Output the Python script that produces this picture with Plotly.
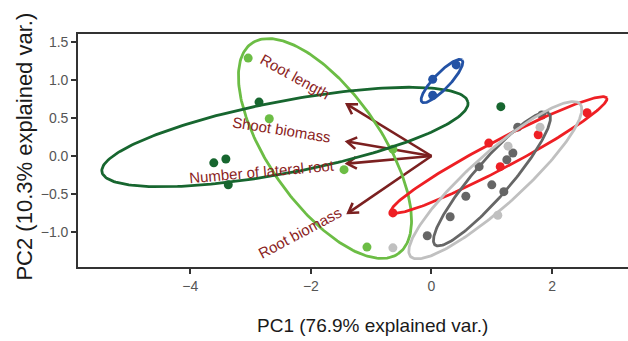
import numpy as np
import plotly.graph_objects as go

# ---- PCA scores per group ----
groups = ["g1", "g2", "g3", "g4", "g5", "g6"]
colors = {"g1": "#6cbd45", "g2": "#17662f", "g3": "#2352a5",
          "g4": "#ee1f24", "g5": "#666666", "g6": "#c0c0c0"}

pc1 = {
    "g1": [-3.04, -2.69, -0.64, -1.45, -1.07],
    "g2": [-2.86, -3.61, -3.41, -3.37, 1.15],
    "g3": [0.02, 0.41, 0.02],
    "g4": [2.58, 1.77, 0.95, 1.14, -0.64],
    "g5": [1.83, 1.43, 1.35, 1.25, 0.79, 1.00, 1.20, 0.57, 0.31, -0.07],
    "g6": [1.27, 1.80, 1.10, -0.64],
}
pc2 = {
    "g1": [1.29, 0.49, 0.09, -0.18, -1.20],
    "g2": [0.71, -0.09, -0.04, -0.38, 0.65],
    "g3": [1.01, 1.20, 0.80],
    "g4": [0.57, 0.28, 0.17, -0.14, -0.75],
    "g5": [0.54, 0.38, 0.04, -0.05, -0.14, -0.38, -0.47, -0.53, -0.80, -1.05],
    "g6": [0.13, 0.38, -0.78, -1.21],
}

# ---- group ellipses: centre, semi-axis vectors (data units) ----
ell_center = {
    "g1": (-1.766, 0.099), "g2": (-2.43, 0.25), "g3": (0.174, 0.988),
    "g4": (1.119, 0.013), "g5": (1.003, -0.303), "g6": (1.058, -0.319),
}
ell_u = {
    "g1": (1.216, -1.385), "g2": (3.035, 0.461), "g3": (0.332, 0.277),
    "g4": (1.788, 0.751), "g5": (0.944, 0.868), "g6": (1.405, 1.005),
}
ell_v = {
    "g1": (0.763, 0.423), "g2": (0.113, -0.466), "g3": (0.096, -0.072),
    "g4": (0.108, -0.163), "g5": (0.226, -0.155), "g6": (0.289, -0.254),
}

# ---- variable loadings (arrows) ----
var_names = ["Root length", "Shoot biomass", "Number of lateral root", "Root biomass"]
var_x = [-1.40, -1.40, -1.40, -1.38]
var_y = [0.68, 0.19, -0.10, -0.75]
label_x = [-2.26, -2.49, -2.81, -2.18]
label_y = [1.05, 0.35, -0.21, -1.01]
label_angle = [29, 9, -5, -28]

x_range = [-5.862, 3.259]
y_range = [-1.462, 1.607]
x_ticks = [-4, -2, 0, 2]
y_ticks = [-1.0, -0.5, 0.0, 0.5, 1.0, 1.5]
y_ticklabels = ["\u22121.0", "\u22120.5", "0.0", "0.5", "1.0", "1.5"]
x_ticklabels = ["\u22124", "\u22122", "0", "2"]

W, H = 628, 341
margin = dict(l=78, r=0, t=34, b=74)
plot_w = W - margin["l"] - margin["r"]
plot_h = H - margin["t"] - margin["b"]
sx = plot_w / (x_range[1] - x_range[0])
sy = plot_h / (y_range[1] - y_range[0])

arrow_col = "#7b2020"
text_col = "#8b1e1e"
font_family = "Liberation Sans, Arial"

fig = go.Figure()

# arrows (shaft + open chevron head)
head_len = 11.0
head_ang = np.deg2rad(32)
for vx, vy in zip(var_x, var_y):
    fig.add_trace(go.Scatter(x=[0, vx], y=[0, vy], mode="lines",
                             line=dict(color=arrow_col, width=2.6),
                             hoverinfo="skip", showlegend=False))
    dx, dy = vx * sx, vy * sy
    ang = np.arctan2(dy, dx)
    hx, hy = [], []
    for s in (1, -1):
        a = ang + np.pi + s * head_ang
        hx.append(vx + head_len * np.cos(a) / sx)
        hy.append(vy + head_len * np.sin(a) / sy)
    fig.add_trace(go.Scatter(x=[hx[0], vx, hx[1]], y=[hy[0], vy, hy[1]],
                             mode="lines", line=dict(color=arrow_col, width=2.6),
                             hoverinfo="skip", showlegend=False))

# points
for g in groups:
    fig.add_trace(go.Scatter(x=pc1[g], y=pc2[g], mode="markers",
                             marker=dict(color=colors[g], size=9),
                             hoverinfo="skip", showlegend=False))

# ellipses
t = np.linspace(0, 2 * np.pi, 240)
for g in groups:
    cx, cy = ell_center[g]
    ux, uy = ell_u[g]
    vx, vy = ell_v[g]
    ex = cx + ux * np.cos(t) + vx * np.sin(t)
    ey = cy + uy * np.cos(t) + vy * np.sin(t)
    fig.add_trace(go.Scatter(x=ex, y=ey, mode="lines",
                             line=dict(color=colors[g], width=2.8),
                             hoverinfo="skip", showlegend=False))

annotations = []
for name, lx, ly, la in zip(var_names, label_x, label_y, label_angle):
    annotations.append(dict(x=lx, y=ly, text=name, showarrow=False,
                            textangle=la, xanchor="center", yanchor="middle",
                            font=dict(family=font_family, size=15,
                                      color=text_col)))

annotations.append(dict(x=0.536, y=-0.249, xref="paper", yref="paper",
                        text="PC1 (76.9% explained var.)", showarrow=False,
                        xanchor="center", yanchor="middle",
                        font=dict(family=font_family, size=19,
                                  color="#1a1a1a")))
annotations.append(dict(x=-0.099, y=0.515, xref="paper", yref="paper",
                        text="PC2 (10.3% explained var.)", showarrow=False,
                        textangle=-90, xanchor="center", yanchor="middle",
                        font=dict(family=font_family, size=22,
                                  color="#1a1a1a")))

axis_common = dict(showgrid=False, zeroline=False, showline=True,
                   linecolor="#333333", linewidth=1.6, ticks="outside",
                   ticklen=5, tickwidth=1.6, tickcolor="#333333",
                   tickfont=dict(family=font_family, size=14,
                                 color="#555555"))

fig.update_layout(
    width=W, height=H, margin=margin,
    paper_bgcolor="white", plot_bgcolor="white",
    annotations=annotations,
    xaxis=dict(range=x_range, tickvals=x_ticks, ticktext=x_ticklabels,
               mirror=True, **axis_common),
    yaxis=dict(range=y_range, tickvals=y_ticks, ticktext=y_ticklabels,
               **axis_common),
)

fig.write_html("out.html")
